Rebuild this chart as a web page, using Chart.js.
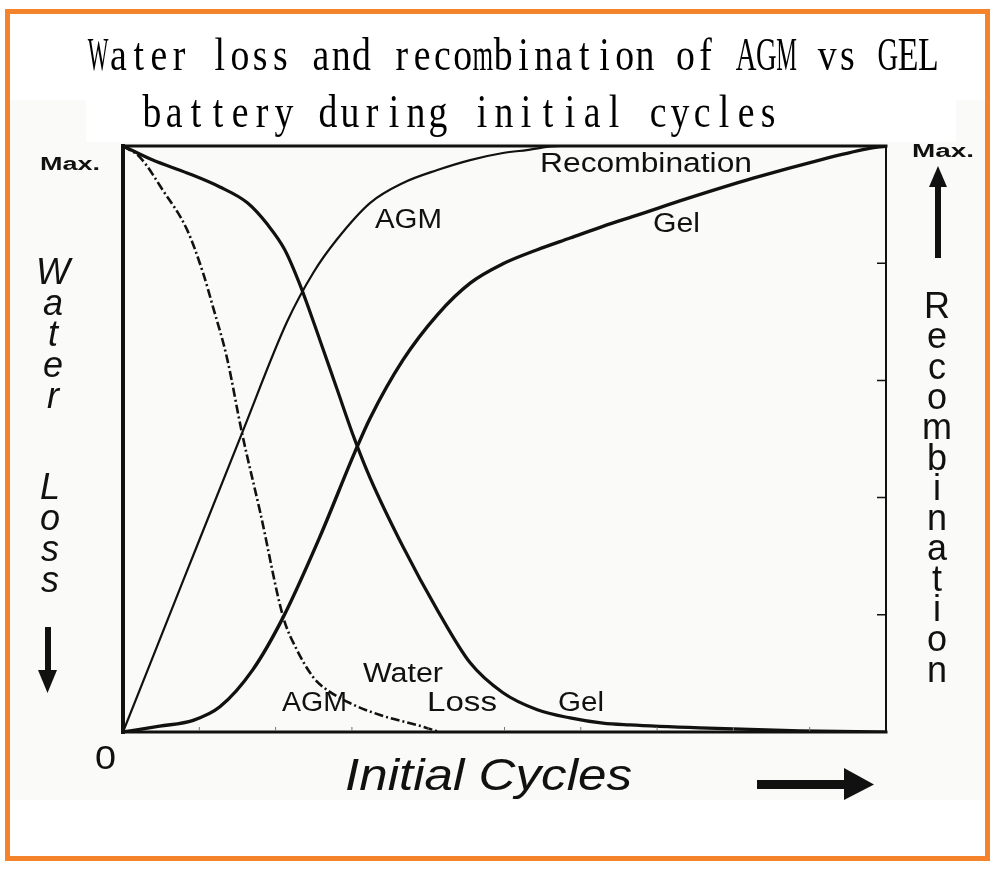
<!DOCTYPE html>
<html>
<head>
<meta charset="utf-8">
<title>Water loss and recombination of AGM vs GEL</title>
<script src="https://cdn.jsdelivr.net/npm/chart.js@4.4.1/dist/chart.umd.min.js"></script>
<style>
  html, body { margin: 0; padding: 0; background: #fff; }
  #wrap { width: 998px; height: 872px; }
</style>
</head>
<body>
<div id="wrap"><canvas id="chart" width="998" height="872"></canvas></div>
<script>
// title + axis texts
const titleLines = ['Water loss and recombination of AGM vs GEL', 'battery during initial cycles'];
const leftAxisWords = ['Water', 'Loss'];
const rightAxisWord = 'Recombination';
const xAxisLabel = 'Initial Cycles';

// curves, x and y both 0..1 (0 -> Max.)
const agmRecX = [0, 0.080, 0.156, 0.215, 0.250, 0.280, 0.324, 0.367, 0.412, 0.455, 0.498, 0.529, 0.573, 1.0];
const agmRecY = [0, 0.262, 0.510, 0.700, 0.785, 0.840, 0.903, 0.937, 0.959, 0.976, 0.988, 0.993, 1.0, 1.0];

const gelRecX = [0, 0.048, 0.092, 0.127, 0.170, 0.210, 0.258, 0.304, 0.324, 0.367, 0.412, 0.455, 0.498, 0.543, 0.586, 0.629, 0.674, 0.739, 0.826, 0.913, 0.975, 1.0];
const gelRecY = [0, 0.010, 0.020, 0.043, 0.106, 0.196, 0.333, 0.478, 0.536, 0.635, 0.712, 0.766, 0.799, 0.823, 0.843, 0.863, 0.882, 0.910, 0.945, 0.976, 0.995, 1.0];

const agmLossX = [0, 0.022, 0.052, 0.084, 0.105, 0.118, 0.136, 0.156, 0.180, 0.210, 0.228, 0.249, 0.262, 0.298, 0.337, 0.393, 0.415];
const agmLossY = [1, 0.981, 0.925, 0.857, 0.783, 0.725, 0.640, 0.510, 0.374, 0.196, 0.140, 0.094, 0.077, 0.049, 0.029, 0.009, 0];

const gelLossX = [0, 0.039, 0.084, 0.127, 0.163, 0.190, 0.212, 0.232, 0.258, 0.280, 0.304, 0.324, 0.367, 0.412, 0.455, 0.498, 0.543, 0.586, 0.629, 0.664, 0.756, 0.887, 1.0];
const gelLossY = [1, 0.976, 0.954, 0.930, 0.903, 0.865, 0.823, 0.763, 0.669, 0.587, 0.498, 0.433, 0.316, 0.208, 0.118, 0.067, 0.038, 0.024, 0.015, 0.012, 0.007, 0.002, 0];

// little marks on the frame
const rightTicks = [0.2, 0.4, 0.6, 0.8];
const bottomTicks = [0.1, 0.2, 0.3, 0.4, 0.5, 0.6, 0.7, 0.8, 0.9];

const ink = '#111111';

function toPoints(xs, ys) {
  return xs.map((x, i) => ({ x: x, y: ys[i] }));
}

// draw text squeezed/stretched to a given width
function fitText(ctx, text, x, y, w, font) {
  ctx.font = font;
  const m = ctx.measureText(text).width;
  ctx.save();
  ctx.translate(x, y);
  ctx.scale(w / m, 1);
  ctx.textAlign = 'left';
  ctx.fillText(text, 0, 0);
  ctx.restore();
}

// fixed pitch text, each glyph centred in its own cell (title looks monospaced)
function cellText(ctx, text, x0, y, pitch, font, sx) {
  ctx.font = font;
  ctx.textAlign = 'center';
  for (let i = 0; i < text.length; i++) {
    const ch = text[i];
    if (ch === ' ') continue;
    const w = ctx.measureText(ch).width;
    const s = Math.min(sx, 1.02 * pitch / w);
    ctx.save();
    ctx.translate(x0 + (i + 0.5) * pitch, y);
    ctx.scale(s, 1);
    ctx.fillText(ch, 0, 0);
    ctx.restore();
  }
}

// upright letters stacked top to bottom
function stackText(ctx, word, cx, y0, pitch, font) {
  ctx.font = font;
  ctx.textAlign = 'center';
  for (let i = 0; i < word.length; i++) {
    ctx.fillText(word[i], cx, y0 + i * pitch);
  }
}

function arrow(ctx, pts) {
  ctx.beginPath();
  ctx.moveTo(pts[0][0], pts[0][1]);
  for (let i = 1; i < pts.length; i++) ctx.lineTo(pts[i][0], pts[i][1]);
  ctx.closePath();
  ctx.fill();
}

const decor = {
  id: 'decor',
  beforeDraw(chart) {
    const ctx = chart.ctx;
    ctx.save();
    ctx.fillStyle = '#ffffff';
    ctx.fillRect(0, 0, chart.width, chart.height);
    // scanned figure area is a bit off-white
    ctx.fillStyle = '#fafaf8';
    ctx.fillRect(10, 100, 975, 700);
    ctx.fillStyle = '#ffffff';
    ctx.fillRect(86, 14, 870, 128);

    ctx.fillStyle = '#000';
    ctx.textBaseline = 'alphabetic';
    const tf = '46px "Liberation Serif", "DejaVu Serif", serif';
    cellText(ctx, titleLines[0], 88, 70, 20.25, tf, 0.82);
    cellText(ctx, titleLines[1], 141, 127, 22, tf, 0.82);

    ctx.strokeStyle = '#f5832b';
    ctx.lineWidth = 5;
    ctx.strokeRect(7.5, 11.5, 980, 847);
    ctx.restore();
  },
  afterDatasetsDraw(chart) {
    const ctx = chart.ctx;
    const a = chart.chartArea;
    const xs = chart.scales.x;
    const ys = chart.scales.y;
    ctx.save();
    ctx.strokeStyle = ink;
    ctx.lineCap = 'square';

    // frame
    ctx.lineWidth = 3;
    ctx.beginPath();
    ctx.moveTo(a.left, a.top); ctx.lineTo(a.right, a.top);
    ctx.moveTo(a.left, a.bottom); ctx.lineTo(a.right, a.bottom);
    ctx.stroke();
    ctx.lineWidth = 4;
    ctx.beginPath();
    ctx.moveTo(a.left, a.top); ctx.lineTo(a.left, a.bottom);
    ctx.stroke();
    ctx.lineWidth = 2;
    ctx.beginPath();
    ctx.moveTo(a.right, a.top); ctx.lineTo(a.right, a.bottom);
    ctx.stroke();

    // inner ticks
    ctx.lineWidth = 1.5;
    ctx.lineCap = 'butt';
    ctx.beginPath();
    rightTicks.forEach(v => {
      const py = ys.getPixelForValue(v);
      ctx.moveTo(a.right, py); ctx.lineTo(a.right - 9, py);
    });
    ctx.stroke();
    ctx.strokeStyle = '#777';
    ctx.lineWidth = 1;
    ctx.beginPath();
    bottomTicks.forEach(v => {
      const px = xs.getPixelForValue(v);
      ctx.moveTo(px, a.bottom - 1); ctx.lineTo(px, a.bottom - 5);
    });
    ctx.stroke();

    // texts
    ctx.fillStyle = ink;
    ctx.textBaseline = 'alphabetic';
    const lab = '27px "Liberation Sans", Arial, sans-serif';
    fitText(ctx, 'Recombination', 540, 172, 212, lab);
    fitText(ctx, 'AGM', 375, 228, 67, lab);
    fitText(ctx, 'Gel', 653, 232, 47, lab);
    fitText(ctx, 'Water', 363, 682, 80, lab);
    fitText(ctx, 'AGM', 282, 711, 65, lab);
    fitText(ctx, 'Loss', 427, 711, 70, lab);
    fitText(ctx, 'Gel', 558, 711, 46, lab);

    const maxFont = 'bold 18px "Liberation Sans", Arial, sans-serif';
    fitText(ctx, 'Max.', 40, 170, 60, maxFont);
    fitText(ctx, 'Max.', 912, 157, 62, maxFont);
    fitText(ctx, '0', 95, 769, 21, '34px "Liberation Sans", Arial, sans-serif');
    fitText(ctx, xAxisLabel, 345, 790, 287, 'italic 44px "Liberation Sans", Arial, sans-serif');

    const sideItalic = 'italic 36px "Liberation Sans", Arial, sans-serif';
    stackText(ctx, leftAxisWords[0], 53, 284, 31, sideItalic);
    stackText(ctx, leftAxisWords[1], 50, 499, 31, sideItalic);
    stackText(ctx, rightAxisWord, 937, 318, 30.3, '36px "Liberation Sans", Arial, sans-serif');

    // arrows
    ctx.fillStyle = ink;
    ctx.fillRect(45, 627, 6, 46);
    arrow(ctx, [[38, 670], [57, 670], [47.5, 693]]);
    ctx.fillRect(935, 184, 6, 74);
    arrow(ctx, [[929, 187], [947, 187], [938, 166]]);
    ctx.fillRect(757, 780, 90, 9);
    arrow(ctx, [[844, 768], [844, 800], [874, 784.5]]);
    ctx.restore();
  }
};

const baseLine = {
  borderColor: ink,
  pointRadius: 0,
  fill: false,
  cubicInterpolationMode: 'monotone'
};

new Chart(document.getElementById('chart'), {
  type: 'line',
  data: {
    datasets: [
      Object.assign({}, baseLine, { label: 'AGM recombination', data: toPoints(agmRecX, agmRecY), borderWidth: 2.2 }),
      Object.assign({}, baseLine, { label: 'Gel recombination', data: toPoints(gelRecX, gelRecY), borderWidth: 3.4 }),
      Object.assign({}, baseLine, { label: 'AGM water loss', data: toPoints(agmLossX, agmLossY), borderWidth: 2.6, borderDash: [9, 3, 2, 3] }),
      Object.assign({}, baseLine, { label: 'Gel water loss', data: toPoints(gelLossX, gelLossY), borderWidth: 3.2 })
    ]
  },
  options: {
    responsive: false,
    animation: false,
    events: [],
    layout: { padding: { left: 123, top: 146, right: 112, bottom: 140 } },
    plugins: {
      legend: { display: false },
      title: { display: false },
      tooltip: { enabled: false }
    },
    scales: {
      x: { type: 'linear', min: 0, max: 1, display: false },
      y: { type: 'linear', min: 0, max: 1, display: false }
    }
  },
  plugins: [decor]
});
</script>
</body>
</html>
